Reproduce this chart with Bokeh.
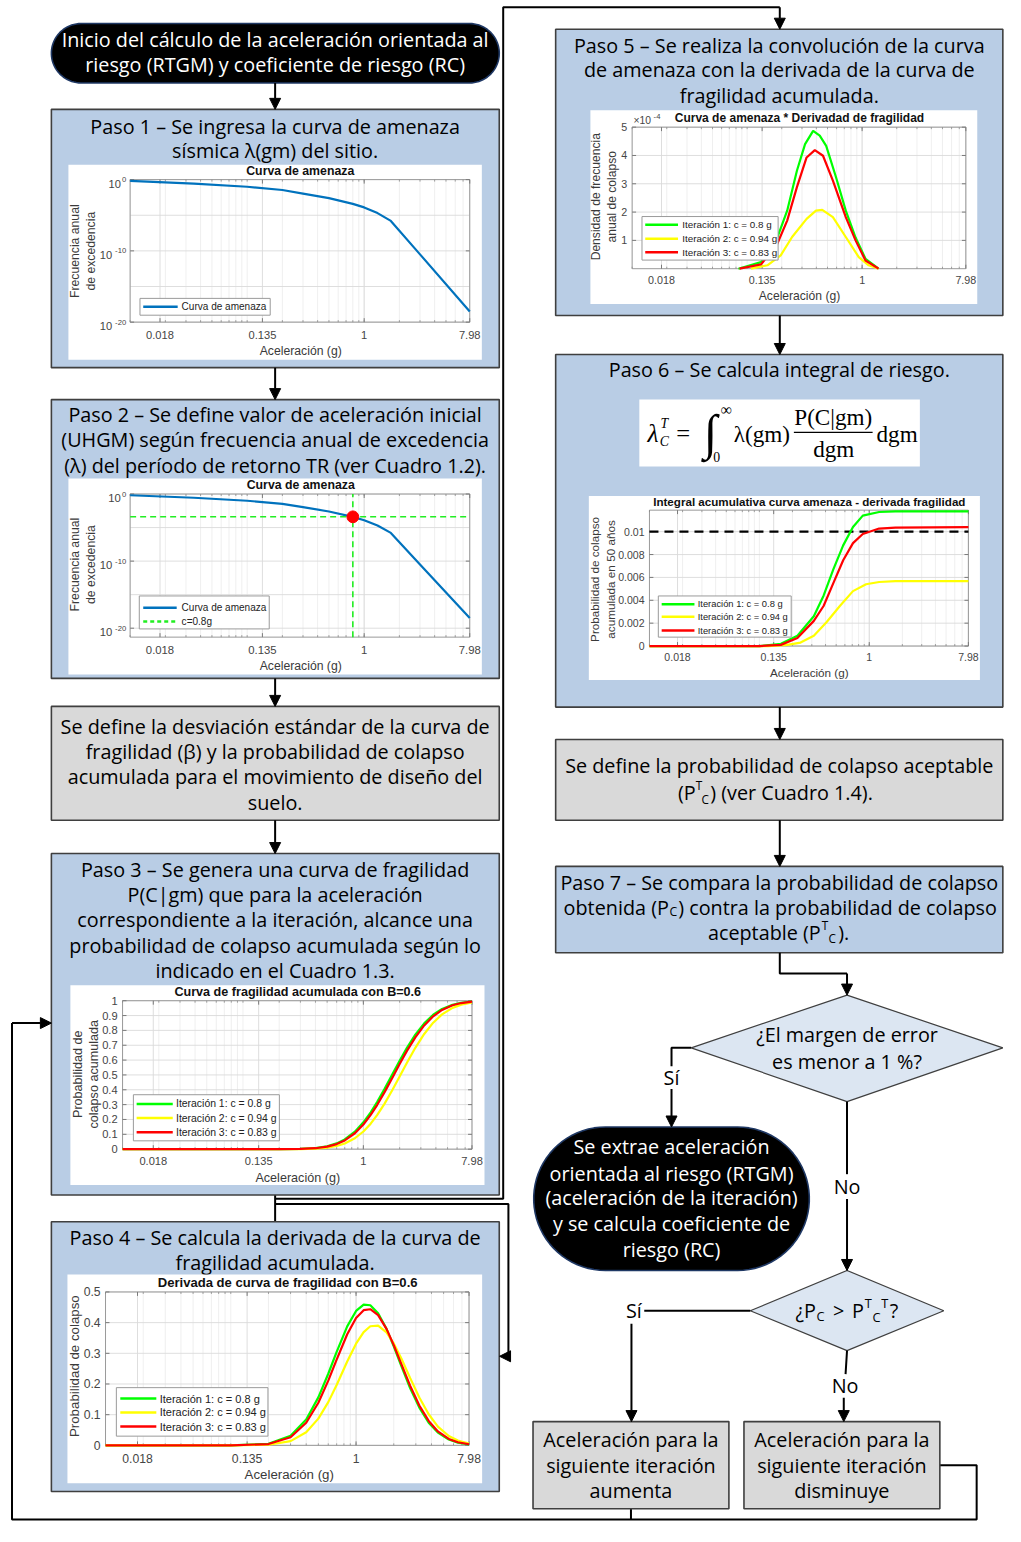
import math
import numpy as np
from bokeh.plotting import figure
from bokeh.models import Range1d, LogScale, LinearScale, Arrow, NormalHead
from bokeh.core.properties import value
from bokeh.embed import file_html
from bokeh.resources import INLINE

# ------------------------------------------------------------------ data
X_TICKS = [0.018, 0.135, 1.0, 7.98]
X_TICK_LABELS = ["0.018", "0.135", "1", "7.98"]
X_LIM = (0.01, 7.98)
X_LABEL = "Aceleración (g)"

HAZARD_X = [0.01, 0.035, 0.1, 0.2, 0.3, 0.5, 0.8, 1.0, 1.3, 1.69, 3.0, 7.98]
HAZARD_Y = [0.66, 0.28, 0.1, 0.035, 0.011, 2.5e-3, 4.0e-4, 1.26e-4, 2.0e-5, 1.6e-6, 3.2e-11, 3.2e-19]
HAZ_YTICKS = [1e-20, 1e-10, 1.0]
HAZ_YTICK_EXP = ["-20", "-10", "0"]
HAZ_YMINOR = [1e-15, 1e-5]
UHGM_X = 0.8
UHGM_Y = 4.0e-4

ITER_NAMES = ["Iteración 1: c = 0.8 g", "Iteración 2: c = 0.94 g", "Iteración 3: c = 0.83 g"]
ITER_COLORS = ["#00ff00", "#ffff00", "#ff0000"]

FRAG_X = [0.01, 0.1, 0.2, 0.3, 0.4, 0.5, 0.6, 0.7, 0.85, 1.0, 1.15, 1.3, 1.5, 1.75,
          2.0, 2.3, 2.7, 3.2, 3.8, 4.5, 5.5, 6.5, 7.98]
FRAG_CDF_1 = [0, 0, 0.0002, 0.0018, 0.0073, 0.0193, 0.0388, 0.0658, 0.1181, 0.1805, 0.2481, 0.3170,
              0.4061, 0.5077, 0.5955, 0.6825, 0.7710, 0.8474, 0.9052, 0.9445, 0.9731, 0.9863, 0.9946]
FRAG_CDF_2 = [0, 0, 0.0001, 0.0007, 0.0034, 0.0098, 0.0211, 0.0380, 0.0734, 0.1190, 0.1718, 0.2288,
              0.3070, 0.4023, 0.4901, 0.5825, 0.6828, 0.7760, 0.8520, 0.9077, 0.9517, 0.9738, 0.9887]
FRAG_CDF_3 = [0, 0, 0.0001, 0.0015, 0.0063, 0.0168, 0.0343, 0.0588, 0.1073, 0.1660, 0.2305, 0.2970,
              0.3842, 0.4850, 0.5733, 0.6620, 0.7534, 0.8336, 0.8952, 0.9378, 0.9693, 0.9842, 0.9936]
FRAG_PDF_1 = [0, 0.0001, 0.0052, 0.0312, 0.0845, 0.1564, 0.2334, 0.3047, 0.3879, 0.4381, 0.4587, 0.4567,
              0.4309, 0.3799, 0.3228, 0.2583, 0.1870, 0.1229, 0.0740, 0.0415, 0.0189, 0.0090, 0.0032]
FRAG_PDF_2 = [0, 0, 0.0019, 0.0138, 0.0426, 0.0871, 0.1409, 0.1967, 0.2731, 0.3314, 0.3692, 0.3882,
              0.3904, 0.3685, 0.3323, 0.2829, 0.2199, 0.1558, 0.1014, 0.0613, 0.0304, 0.0156, 0.0062]
FRAG_PDF_3 = [0, 0, 0.0042, 0.0264, 0.0735, 0.1389, 0.2109, 0.2792, 0.3621, 0.4153, 0.4406, 0.4437,
              0.4244, 0.3796, 0.3268, 0.2649, 0.1947, 0.1300, 0.0796, 0.0454, 0.0210, 0.0102, 0.0037]

# hazard * derivative (units of 1e-4)
PROD_X_1 = [0.084, 0.132, 0.183, 0.223, 0.271, 0.319, 0.375, 0.428, 0.487, 0.593, 0.721, 0.877, 1.07, 1.39]
PROD_Y_1 = [0, 0.23, 1.1, 2.05, 3.46, 4.4, 4.87, 4.7, 4.34, 3.23, 2.05, 1.1, 0.35, 0]
PROD_X_2 = [0.108, 0.150, 0.196, 0.246, 0.329, 0.397, 0.450, 0.557, 0.721, 0.935, 1.14, 1.39]
PROD_Y_2 = [0, 0.12, 0.47, 1.12, 1.76, 2.05, 2.08, 1.82, 1.12, 0.41, 0.12, 0]
PROD_X_3 = [0.086, 0.132, 0.183, 0.223, 0.271, 0.329, 0.388, 0.457, 0.557, 0.721, 0.877, 1.07, 1.39]
PROD_Y_3 = [0, 0.15, 0.88, 1.7, 2.88, 3.93, 4.19, 3.99, 3.11, 1.82, 1.0, 0.29, 0]
PROD_YTICKS = [1, 2, 3, 4, 5]

CUM_X_1 = [0.01, 0.1, 0.157, 0.222, 0.313, 0.384, 0.471, 0.579, 0.711, 0.873, 1.23, 1.73, 7.98]
CUM_Y_1 = [0, 0, 0.0002, 0.0009, 0.0026, 0.0044, 0.0067, 0.0088, 0.0104, 0.0114, 0.01172, 0.01178, 0.01178]
CUM_X_2 = [0.01, 0.12, 0.180, 0.237, 0.313, 0.410, 0.540, 0.711, 0.935, 1.23, 1.73, 7.98]
CUM_Y_2 = [0, 0, 0.0001, 0.0003, 0.0009, 0.0021, 0.0035, 0.0048, 0.0054, 0.0056, 0.00567, 0.00567]
CUM_X_3 = [0.01, 0.1, 0.157, 0.222, 0.313, 0.384, 0.471, 0.579, 0.711, 0.873, 1.23, 1.73, 7.98]
CUM_Y_3 = [0, 0, 0.0001, 0.0007, 0.0022, 0.0035, 0.0055, 0.0075, 0.0090, 0.0098, 0.01027, 0.01036, 0.0104]
CUM_YTICKS = [0, 0.002, 0.004, 0.006, 0.008, 0.01]
CUM_YTICK_LABELS = ["0", "0.002", "0.004", "0.006", "0.008", "0.01"]
TARGET_PC = 0.01

FRAG_YTICKS = [0, 0.1, 0.2, 0.3, 0.4, 0.5, 0.6, 0.7, 0.8, 0.9, 1.0]
FRAG_YTICK_LABELS = ["0", "0.1", "0.2", "0.3", "0.4", "0.5", "0.6", "0.7", "0.8", "0.9", "1"]
PDF_YTICKS = [0, 0.1, 0.2, 0.3, 0.4, 0.5]
PDF_YTICK_LABELS = ["0", "0.1", "0.2", "0.3", "0.4", "0.5"]

# ------------------------------------------------------------------ canvas
W, H = 1005, 1526
RW, RH = 1021.0, 1542.0
S = W / RW
MAIN = "Open Sans"
MS = 20.1
AXF = "Liberation Sans"
SERIF = "Liberation Serif"
BLUE = "#b9cde5"
GRAY = "#d9d9d9"
DIAM = "#dce6f2"
EDGE = "#3f3f3f"

p = figure(width=W, height=H, x_range=Range1d(0, RW), y_range=Range1d(RH, 0),
           output_backend="svg", toolbar_location=None, min_border=0,
           x_axis_location=None, y_axis_location=None)
p.grid.visible = False
p.outline_line_color = None
p.background_fill_color = "white"
p.border_fill_color = "white"

SUB = {
    "p1": dict(white=(69, 489, 166, 363), frame=(131.7, 476.7, 181, 325), ylim=(1e-20, 1.0), ylog=True),
    "p2": dict(white=(69, 489, 483, 681), frame=(131.7, 476.7, 498.7, 643.3), ylim=(10 ** -21.33, 1.0), ylog=True),
    "p3": dict(white=(71, 491.7, 995, 1197), frame=(124, 479, 1010.7, 1160.7), ylim=(0, 1.0), ylog=False),
    "p4": dict(white=(68, 489.3, 1287.3, 1498.3), frame=(106.7, 476, 1305, 1460), ylim=(0, 0.5), ylog=False),
    "p5": dict(white=(599.3, 992.3, 111, 306.7), frame=(641.7, 980.7, 128, 271), ylim=(0, 5.0), ylog=False),
    "p6": dict(white=(597.7, 995, 500.7, 686.7), frame=(659.3, 983.3, 515, 652.3), ylim=(0, 0.01188), ylog=False),
}

XR, YR, XS, YS = {}, {}, {}, {}
for name, sp in SUB.items():
    l, r, t, b = sp["frame"]
    lx0, lx1 = math.log10(X_LIM[0]), math.log10(X_LIM[1])
    a = (lx1 - lx0) / (r - l)
    XR[name] = Range1d(start=10 ** (lx0 - a * l), end=10 ** (lx0 + a * (RW - l)))
    XS[name] = LogScale()
    if sp["ylog"]:
        ly0, ly1 = math.log10(sp["ylim"][0]), math.log10(sp["ylim"][1])
    else:
        ly0, ly1 = sp["ylim"]
    c = (ly1 - ly0) / (b - t)
    s0, s1 = ly0 - c * (RH - b), ly0 + c * b
    if sp["ylog"]:
        YR[name] = Range1d(start=10 ** s0, end=10 ** s1)
        YS[name] = LogScale()
    else:
        YR[name] = Range1d(start=s0, end=s1)
        YS[name] = LinearScale()
p.extra_x_ranges = XR
p.extra_y_ranges = YR
p.extra_x_scales = XS
p.extra_y_scales = YS


def fpx(v):
    return value(f"{v * S:.2f}px")


def text(x, y, s, size, color="black", font=MAIN, align="center", baseline="middle",
         style="normal", angle=0.0, xr="default", yr="default"):
    p.text(x=[x], y=[y], text=[s], text_font=value(font), text_font_size=fpx(size),
           text_color=color, text_align=align, text_baseline=baseline,
           text_font_style=style, angle=angle, x_range_name=xr, y_range_name=yr)


def lines(xc, ys, strs, size=MS, color="black"):
    for y, s in zip(ys, strs):
        text(xc, y, s, size, color=color)


def box(l, r, t, b, fill, line=EDGE, lw=1.6):
    p.quad(left=[l], right=[r], top=[t], bottom=[b], fill_color=fill, line_color=line, line_width=lw)


def stadium(l, r, t, b, fill="black", line="#1f3864", lw=1.6):
    ry = (b - t) / 2.0
    rx = ry * (H / RH) / (W / RW)
    cy = (t + b) / 2.0
    th = np.linspace(-math.pi / 2, math.pi / 2, 40)
    xs = list(r - rx + rx * np.cos(th)) + list(l + rx - rx * np.cos(th[::-1]))
    ys = list(cy + ry * np.sin(th)) + list(cy + ry * np.sin(th[::-1]))
    p.patch(xs, ys, fill_color=fill, line_color=line, line_width=lw)


def arrow(x0, y0, x1, y1):
    p.add_layout(Arrow(end=NormalHead(size=11, fill_color="black", line_color="black", line_width=1),
                       x_start=x0, y_start=y0, x_end=x1, y_end=y1,
                       line_color="black", line_width=2))


def path(xs, ys):
    p.line(xs, ys, line_color="black", line_width=2)


TICK_C = "#454545"
LAB_C = "#3a3a3a"


def draw_axes(name, yticks, ylabels=None, yexp=None, yminor=(), title="", title_xy=(0, 0),
              sizes=(11.3, 12.4, 12.5), ylab=(), ylab_x=(), ylab_y=0, xt_y=0, xl_xy=(0, 0)):
    tks, lbs, tts = sizes
    sp = SUB[name]
    l, r, t, b = sp["frame"]
    wl, wr, wt, wb = sp["white"]
    ylo, yhi = sp["ylim"]
    p.quad(left=[wl], right=[wr], top=[wt], bottom=[wb], fill_color="white", line_color=None)
    minors = [k * 10.0 ** d for d in (-2, -1, 0) for k in range(1, 10)
              if X_LIM[0] <= k * 10.0 ** d <= X_LIM[1]]
    p.multi_line(xs=[[v, v] for v in minors], ys=[[ylo, yhi]] * len(minors), line_color="#ebebeb",
                 line_width=0.8, x_range_name=name, y_range_name=name)
    p.multi_line(xs=[[v, v] for v in X_TICKS], ys=[[ylo, yhi]] * len(X_TICKS), line_color="#dadada",
                 line_width=0.9, x_range_name=name, y_range_name=name)
    hs = list(yticks) + list(yminor)
    p.multi_line(xs=[list(X_LIM)] * len(hs), ys=[[v, v] for v in hs], line_color="#dadada",
                 line_width=0.9, x_range_name=name, y_range_name=name)
    p.quad(left=[l], right=[r], top=[t], bottom=[b], fill_color=None, line_color="#9a9a9a", line_width=1)
    n = len(X_TICKS)
    p.segment(x0=X_TICKS, y0=[b] * n, x1=X_TICKS, y1=[b - 4] * n, x_range_name=name,
              line_color="#7a7a7a", line_width=1)
    p.segment(x0=X_TICKS, y0=[t] * n, x1=X_TICKS, y1=[t + 4] * n, x_range_name=name,
              line_color="#7a7a7a", line_width=1)
    m = len(minors)
    p.segment(x0=minors, y0=[b] * m, x1=minors, y1=[b - 2] * m, x_range_name=name,
              line_color="#8a8a8a", line_width=0.8)
    p.segment(x0=minors, y0=[t] * m, x1=minors, y1=[t + 2] * m, x_range_name=name,
              line_color="#8a8a8a", line_width=0.8)
    k = len(yticks)
    p.segment(x0=[l] * k, y0=yticks, x1=[l + 4] * k, y1=yticks, y_range_name=name,
              line_color="#7a7a7a", line_width=1)
    p.segment(x0=[r] * k, y0=yticks, x1=[r - 4] * k, y1=yticks, y_range_name=name,
              line_color="#7a7a7a", line_width=1)
    p.text(x=X_TICKS, y=[xt_y] * n, text=X_TICK_LABELS, text_font=value(AXF), text_font_size=fpx(tks),
           text_color=TICK_C, text_align="center", text_baseline="middle", x_range_name=name)
    text(xl_xy[0], xl_xy[1], X_LABEL, lbs, color=LAB_C, font=AXF)
    if ylabels is not None:
        p.text(x=[l - 5] * k, y=list(yticks), text=ylabels, text_font=value(AXF), text_font_size=fpx(tks),
               text_color=TICK_C, text_align="right", text_baseline="middle", y_range_name=name)
    if yexp is not None:
        for v, e in zip(yticks, yexp):
            text(l - 4, v, e, 7.8, color=TICK_C, font=AXF, align="right", baseline="alphabetic", yr=name)
            text(l - 5 - 4.4 * len(e), v, "10", tks, color=TICK_C, font=AXF, align="right", baseline="top", yr=name)
    if title:
        text(title_xy[0], title_xy[1], title, tts, color="#111111", font=AXF, style="bold")
    for s, x in zip(ylab, ylab_x):
        text(x, ylab_y, s, lbs, color=LAB_C, font=AXF, angle=math.pi / 2)


def legend(rect, items, lx0, lx1, tx, size):
    l, r, t, b = rect
    p.quad(left=[l], right=[r], top=[t], bottom=[b], fill_color="white", line_color="#9a9a9a", line_width=1)
    for y, col, dash, lab in items:
        p.line([lx0, lx1], [y, y], line_color=col, line_width=2.5, line_dash=dash)
        text(tx, y, lab, size, color="#222222", font=AXF, align="left")


# ------------------------------------------------------------------ connectors (drawn first)
path([279, 279], [1207, 1234])
path([279, 510.7, 510.7, 791.7], [1210.7, 1210.7, 6.7, 6.7])
arrow(791.7, 6.7, 791.7, 29)
path([279, 516, 516], [1216, 1216, 1370])
arrow(516, 1370, 507, 1370)
path([954.3, 991.7, 991.7, 11.7, 11.7], [1480, 1480, 1535, 1535, 1033.3])
arrow(11.7, 1033.3, 51.7, 1033.3)
path([640.5, 640.5], [1524, 1535])

# ------------------------------------------------------------------ left column
stadium(51.7, 506.7, 23.3, 83.3)
lines(279, [39.5, 65], ["Inicio del cálculo de la aceleración orientada al",
                        "riesgo (RTGM) y coeficiente de riesgo (RC)"], color="white")
arrow(279, 83.3, 279, 110)

box(51.7, 506.7, 110, 371, BLUE)
lines(279, [127, 152], ["Paso 1 – Se ingresa la curva de amenaza", "sísmica λ(gm) del sitio."])
draw_axes("p1", HAZ_YTICKS, yexp=HAZ_YTICK_EXP, yminor=HAZ_YMINOR, title="Curva de amenaza",
          title_xy=(304.5, 172.5), sizes=(11.3, 12.4, 12.5), ylab=["Frecuencia anual", "de excedencia"],
          ylab_x=[75.5, 91.5], ylab_y=253.3, xt_y=338.3, xl_xy=(305, 354.3))
p.line(HAZARD_X, HAZARD_Y, line_color="#0072bd", line_width=2.2, x_range_name="p1", y_range_name="p1")
legend((141.7, 274, 301, 318), [(309.5, "#0072bd", "solid", "Curva de amenaza")], 145, 180, 184, 10.2)
arrow(279, 371, 279, 403.3)

box(51.7, 506.7, 403.3, 685, BLUE)
lines(279, [418.5, 444, 469.5], ["Paso 2 – Se define valor de aceleración inicial",
                                 "(UHGM) según frecuencia anual de excedencia",
                                 "(λ) del período de retorno TR (ver Cuadro 1.2)."])
draw_axes("p2", HAZ_YTICKS, yexp=HAZ_YTICK_EXP, yminor=HAZ_YMINOR, title="Curva de amenaza",
          title_xy=(305, 489.5), sizes=(11.5, 12.4, 12.5), ylab=["Frecuencia anual", "de excedencia"],
          ylab_x=[75.5, 91.5], ylab_y=570, xt_y=656.7, xl_xy=(305, 672.7))
p.line(HAZARD_X, HAZARD_Y, line_color="#0072bd", line_width=2.2, x_range_name="p2", y_range_name="p2")
p.line(list(X_LIM), [UHGM_Y, UHGM_Y], line_color="#22ee22", line_width=1.6, line_dash="6 4",
       x_range_name="p2", y_range_name="p2")
p.line([UHGM_X, UHGM_X], list(SUB["p2"]["ylim"]), line_color="#22ee22", line_width=1.6, line_dash="6 4",
       x_range_name="p2", y_range_name="p2")
p.scatter(x=[UHGM_X], y=[UHGM_Y], size=12 * S, marker="circle", fill_color="#ff0000",
          line_color="#ff0000", x_range_name="p2", y_range_name="p2")
legend((141, 273, 601.7, 635), [(613.5, "#0072bd", "solid", "Curva de amenaza"),
                                (627.5, "#22ee22", "4 3", "c=0.8g")], 145, 179, 184, 10.2)
arrow(279, 685, 279, 713.3)

box(51.7, 506.7, 713.3, 828.3, GRAY)
lines(279, [733.3, 759, 784.3, 810], ["Se define la desviación estándar de la curva de",
                                     "fragilidad (β) y la probabilidad de colapso",
                                     "acumulada para el movimiento de diseño del", "suelo."])
arrow(279, 828.3, 279, 862)

box(51.7, 506.7, 862, 1207, BLUE)
lines(279, [878.5, 903.5, 929, 954.5, 980], ["Paso 3 – Se genera una curva de fragilidad",
                                             "P(C|gm) que para la aceleración",
                                             "correspondiente a la iteración, alcance una",
                                             "probabilidad de colapso acumulada según lo",
                                             "indicado en el Cuadro 1.3."])
draw_axes("p3", FRAG_YTICKS, ylabels=FRAG_YTICK_LABELS, title="Curva de fragilidad acumulada con B=0.6",
          title_xy=(302, 1001.7), sizes=(11.3, 12.8, 12.8), ylab=["Probabilidad de", "colapso acumulada"],
          ylab_x=[78.3, 95], ylab_y=1085, xt_y=1172.7, xl_xy=(302, 1190))
for ys, col in zip([FRAG_CDF_1, FRAG_CDF_2, FRAG_CDF_3], ITER_COLORS):
    p.line(FRAG_X, ys, line_color=col, line_width=2.2, x_range_name="p3", y_range_name="p3")
legend((135, 283.3, 1105.7, 1152.3), list(zip([1115, 1129.3, 1143.7], ITER_COLORS, ["solid"] * 3, ITER_NAMES)),
       138.3, 175, 178.3, 10.6)

box(51.7, 506.7, 1234, 1506.7, BLUE)
lines(279, [1250, 1275.5], ["Paso 4 – Se calcula la derivada de la curva de", "fragilidad acumulada."])
draw_axes("p4", PDF_YTICKS, ylabels=PDF_YTICK_LABELS, title="Derivada de curva de fragilidad con B=0.6",
          title_xy=(291.7, 1295.3), sizes=(12.4, 13.5, 13.3), ylab=["Probabilidad de colapso"], ylab_x=[75],
          ylab_y=1380, xt_y=1473.3, xl_xy=(293.3, 1489.3))
for ys, col in zip([FRAG_PDF_1, FRAG_PDF_2, FRAG_PDF_3], ITER_COLORS):
    p.line(FRAG_X, ys, line_color=col, line_width=2.2, x_range_name="p4", y_range_name="p4")
legend((117.7, 271.7, 1401.7, 1450.7), list(zip([1412.7, 1426.7, 1441], ITER_COLORS, ["solid"] * 3, ITER_NAMES)),
       121.7, 158.3, 161.7, 11.2)

# ------------------------------------------------------------------ right column
box(564, 1018.3, 29, 318.3, BLUE)
lines(791.2, [45, 70, 95.5], ["Paso 5 – Se realiza la convolución de la curva",
                              "de amenaza con la derivada de la curva de", "fragilidad acumulada."])
draw_axes("p5", PROD_YTICKS, ylabels=[str(v) for v in PROD_YTICKS],
          title="Curva de amenaza * Derivadad de fragilidad", title_xy=(811.7, 118.3), sizes=(10.9, 12.3, 12.2),
          ylab=["Densidad de frecuencia", "anual de colapso"], ylab_x=[605, 621.7], ylab_y=198.3,
          xt_y=282.3, xl_xy=(811.7, 299))
text(643, 121.5, "×10", 10.5, color=TICK_C, font=AXF, align="left")
text(663.5, 117, "-4", 7.8, color=TICK_C, font=AXF, align="left")
for xs, ys, col in zip([PROD_X_1, PROD_X_2, PROD_X_3], [PROD_Y_1, PROD_Y_2, PROD_Y_3], ITER_COLORS):
    p.line(xs, ys, line_color=col, line_width=2.2, x_range_name="p5", y_range_name="p5")
legend((651.7, 790, 218.3, 262.3), list(zip([226.7, 240.7, 254.3], ITER_COLORS, ["solid"] * 3, ITER_NAMES)),
       655, 688.3, 692.7, 10)
arrow(791.7, 318.3, 791.7, 357.7)

box(564, 1018.3, 357.7, 714, BLUE)
text(791.2, 373.3, "Paso 6 – Se calcula integral de riesgo.", MS)
p.quad(left=[649], right=[934], top=[403.3], bottom=[471], fill_color="white", line_color=None)
text(663, 438, "λ", 26, font=SERIF, style="italic")
text(674.5, 427, "T", 14, font=SERIF, style="italic")
text(674.5, 446, "C", 14, font=SERIF, style="italic")
text(693.5, 438, "=", 25, font=SERIF)
text(721, 437, "∫", 50, font=SERIF)
text(737.5, 413.5, "∞", 16, font=SERIF)
text(727.5, 461, "0", 14, font=SERIF)
text(745, 438, "λ(gm)", 23.5, font=SERIF, align="left")
text(846, 421, "P(C|gm)", 23.5, font=SERIF)
p.line([806, 886], [436.5, 436.5], line_color="black", line_width=1.3)
text(846.5, 453, "dgm", 23.5, font=SERIF)
text(890, 438, "dgm", 23.5, font=SERIF, align="left")
draw_axes("p6", CUM_YTICKS, ylabels=CUM_YTICK_LABELS,
          title="Integral acumulativa curva amenaza - derivada fragilidad", title_xy=(821.7, 506.7),
          sizes=(10.7, 11.9, 11.8), ylab=["Probabilidad de colapso", "acumulada en 50 años"],
          ylab_x=[603.3, 619.3], ylab_y=585, xt_y=663.3, xl_xy=(821.7, 679))
p.line(list(X_LIM), [TARGET_PC, TARGET_PC], line_color="black", line_width=2.3, line_dash="9 6",
       x_range_name="p6", y_range_name="p6")
for xs, ys, col in zip([CUM_X_1, CUM_X_2, CUM_X_3], [CUM_Y_1, CUM_Y_2, CUM_Y_3], ITER_COLORS):
    p.line(xs, ys, line_color=col, line_width=2.2, x_range_name="p6", y_range_name="p6")
legend((668.3, 803.3, 601.7, 643.3), list(zip([610, 622.7, 636.7], ITER_COLORS, ["solid"] * 3, ITER_NAMES)),
       671.7, 705, 708.3, 9.5)
arrow(791.7, 714, 791.7, 746.7)

box(564, 1018.3, 746.7, 828.3, GRAY)
text(791.2, 773.3, "Se define la probabilidad de colapso aceptable", MS)
text(706.3, 800, "(P", MS, align="right")
text(709.5, 793, "T", 12)
text(716, 806.5, "C", 12)
text(721, 800, ") (ver Cuadro 1.4).", MS, align="left")
arrow(791.7, 828.3, 791.7, 875)

box(564, 1018.3, 875, 962.3, BLUE)
text(791.2, 891.7, "Paso 7 – Se compara la probabilidad de colapso", MS)
text(679, 916.7, "obtenida (P", MS, align="right")
text(683.5, 921, "C", 12.5)
text(688.5, 916.7, ") contra la probabilidad de colapso", MS, align="left")
text(833.3, 941.7, "aceptable (P", MS, align="right")
text(837.5, 934, "T", 12)
text(845, 947.5, "C", 12)
text(851, 941.7, ").", MS, align="left")
path([791.7, 791.7, 860], [962.3, 983.3, 983.3])
arrow(860, 983.3, 860, 1005)

p.patch([860, 1018.3, 860, 701.7], [1005, 1058.3, 1112.7, 1058.3], fill_color=DIAM, line_color=EDGE, line_width=1.2)
lines(860, [1045, 1071.7], ["¿El margen de error", "es menor a 1 %?"])
path([701.7, 681.7, 681.7], [1058.3, 1058.3, 1077])
text(681.7, 1088.3, "Sí", MS)
arrow(681.7, 1100, 681.7, 1138.3)

stadium(541.7, 821.7, 1138.3, 1283.3)
lines(681.7, [1158.3, 1185, 1210, 1235.5, 1261.7], ["Se extrae aceleración", "orientada al riesgo (RTGM)",
                                                   "(aceleración de la iteración)", "y se calcula coeficiente de",
                                                   "riesgo (RC)"], color="white")

path([860, 860], [1112.7, 1186])
text(860, 1198.3, "No", MS)
arrow(860, 1211, 860, 1283.3)

p.patch([860, 958.3, 860, 761.7], [1283.3, 1324, 1364.3, 1324], fill_color=DIAM, line_color=EDGE, line_width=1.2)
text(828.3, 1324, "¿P", MS, align="right")
text(833, 1329.5, "C", 13)
text(851.5, 1324, ">", MS)
text(865, 1324, "P", MS, align="left")
text(881.7, 1316.5, "T", 13)
text(890, 1330, "C", 13)
text(898.3, 1316.5, "T", 13)
text(903.3, 1324, "?", MS, align="left")

path([761.7, 654], [1324, 1324])
text(643.5, 1324, "Sí", MS)
arrow(641, 1337, 641, 1436)
path([860, 858.5], [1364.3, 1388])
text(858, 1400, "No", MS)
arrow(856.7, 1412, 856.7, 1436)

box(541, 740, 1436, 1524, GRAY)
lines(640.5, [1454.3, 1480, 1506], ["Aceleración para la", "siguiente iteración", "aumenta"])
box(755.3, 954.3, 1436, 1524, GRAY)
lines(854.8, [1454.3, 1480, 1506], ["Aceleración para la", "siguiente iteración", "disminuye"])

open("out.html", "w").write(file_html(p, INLINE))
